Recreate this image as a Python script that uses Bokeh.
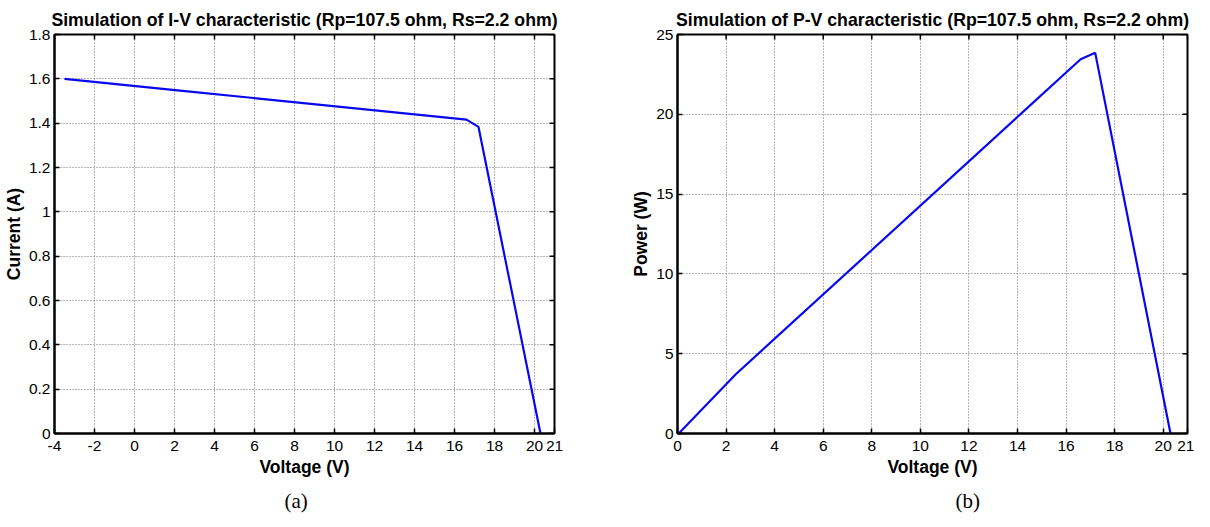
import math
from bokeh.plotting import figure
from bokeh.layouts import row
from bokeh.models import Range1d, FixedTicker, Title
from bokeh.embed import file_html
from bokeh.resources import INLINE

# ---- data ----
voltage = [-3.5, 2.4, 16.6, 17.2, 20.3]
current = [1.6, 1.546, 1.416, 1.383, 0.0]
power = [-5.6, 3.71, 23.45, 23.85, 0.0]

iv_xticks = [-4, -2, 0, 2, 4, 6, 8, 10, 12, 14, 16, 18, 20, 21]
iv_yticks = [0, 0.2, 0.4, 0.6, 0.8, 1.0, 1.2, 1.4, 1.6, 1.8]
iv_ylabels = ["0", "0.2", "0.4", "0.6", "0.8", "1", "1.2", "1.4", "1.6", "1.8"]
pv_xticks = [0, 2, 4, 6, 8, 10, 12, 14, 16, 18, 20, 21]
pv_yticks = [0, 5, 10, 15, 20, 25]
pv_ylabels = ["0", "5", "10", "15", "20", "25"]

iv_title = "Simulation of I-V characteristic (Rp=107.5 ohm, Rs=2.2 ohm)"
pv_title = "Simulation of P-V characteristic (Rp=107.5 ohm, Rs=2.2 ohm)"

FONT = "Liberation Sans"
LINE_COLOR = "#0808f0"


def make_plot(title, xr, yr, xt, yt, ylabels, ylabel, ys, caption,
              width, border_left, border_right, cap_offset):
    p = figure(width=width, height=526, x_range=Range1d(*xr), y_range=Range1d(*yr),
               output_backend="svg", toolbar_location=None, title=title,
               min_border_left=border_left, min_border_right=border_right,
               min_border_top=34, min_border_bottom=93)
    p.title.text_font = FONT
    p.title.text_font_size = "17.7px"
    p.title.text_font_style = "bold"
    p.title.text_color = "black"
    p.title.align = "center"
    p.title.standoff = 9
    p.outline_line_color = "black"
    p.outline_line_width = 2
    p.outline_line_alpha = 1.0
    p.background_fill_color = "white"
    p.border_fill_color = "white"

    overrides = {float(t): l for t, l in zip(yt, ylabels)}
    xover = {float(t): str(t) for t in xt}

    for ax in (p.xaxis[0], p.yaxis[0]):
        ax.major_tick_in = 5
        ax.major_tick_out = 0
        ax.major_tick_line_width = 1.5
        ax.major_tick_line_color = "black"
        ax.minor_tick_line_color = None
        ax.axis_line_width = 2
        ax.axis_line_color = "black"
        ax.major_label_text_font = FONT
        ax.major_label_text_font_size = "15.5px"
        ax.major_label_text_color = "black"
        ax.axis_label_text_font = FONT
        ax.axis_label_text_font_size = "17.5px"
        ax.axis_label_text_font_style = "bold"
        ax.axis_label_text_color = "black"

    p.xaxis[0].ticker = FixedTicker(ticks=xt)
    p.xaxis[0].major_label_overrides = xover
    p.xaxis[0].axis_label = "Voltage (V)"
    p.xaxis[0].major_label_standoff = 7
    p.xaxis[0].axis_label_standoff = 3

    p.yaxis[0].ticker = FixedTicker(ticks=yt)
    p.yaxis[0].major_label_overrides = overrides
    p.yaxis[0].axis_label = ylabel
    p.yaxis[0].major_label_standoff = 4
    p.yaxis[0].axis_label_standoff = 2

    p.xgrid.ticker = FixedTicker(ticks=xt)
    p.ygrid.ticker = FixedTicker(ticks=yt)
    for g in (p.xgrid[0], p.ygrid[0]):
        g.grid_line_color = "#707070"
        g.grid_line_dash = "1 2"
        g.grid_line_width = 1

    # inward ticks on the top and right edges of the box (clipped half of a dash marker)
    p.scatter(x=xt, y=[yr[1]] * len(xt), marker="dash", size=10, angle=math.pi / 2,
              line_color="black", line_width=1.5)
    p.scatter(x=[xr[1]] * len(yt), y=yt, marker="dash", size=10, angle=0,
              line_color="black", line_width=1.5)

    p.line(voltage, ys, line_color=LINE_COLOR, line_width=2.2)

    p.add_layout(Title(text=caption, align="left", text_font="Liberation Serif",
                       text_font_size="21px", text_font_style="normal", text_color="black",
                       standoff=15, offset=cap_offset), "below")
    return p


p1 = make_plot(iv_title, (-4, 21), (0, 1.8), iv_xticks, iv_yticks, iv_ylabels,
               "Current (A)", current, "(a)", 600, 48, 46, 230)
p2 = make_plot(pv_title, (0, 21), (0, 25), pv_xticks, pv_yticks, pv_ylabels,
               "Power (W)", power, "(b)", 594, 77, 7, 278)

layout = row(p1, p2, spacing=0)
open("out.html", "w").write(file_html(layout, INLINE))
